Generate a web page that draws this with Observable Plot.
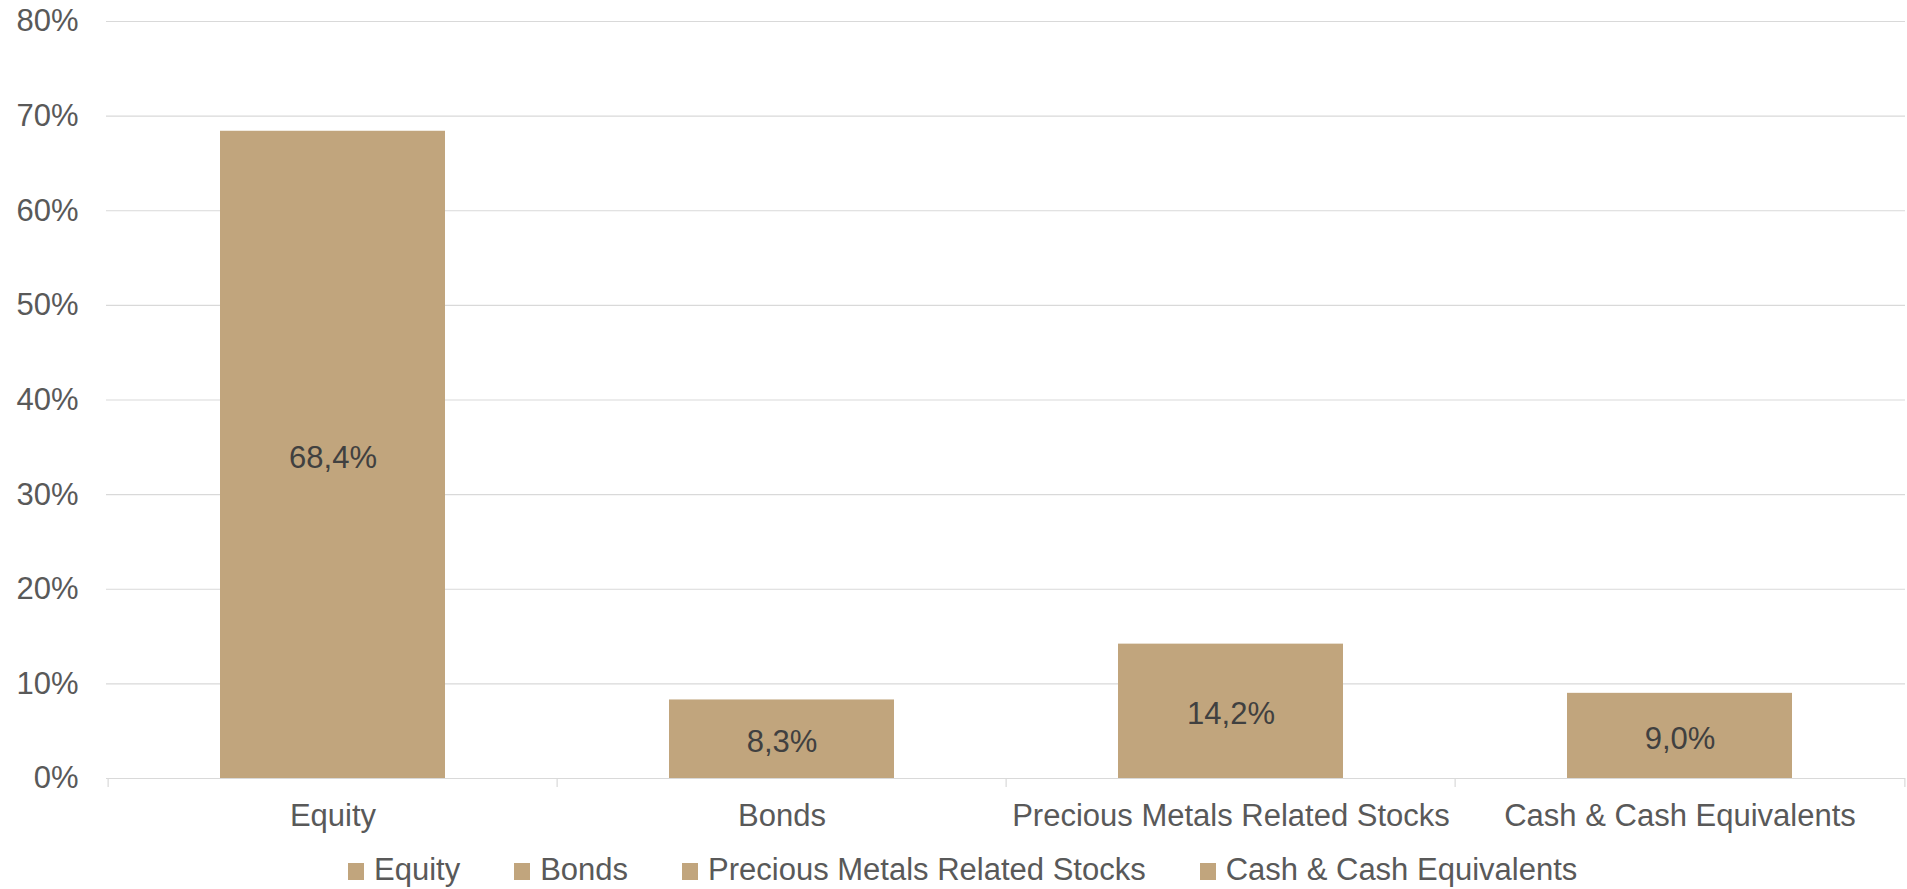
<!DOCTYPE html>
<html><head><meta charset="utf-8">
<script src="https://cdn.jsdelivr.net/npm/d3@7"></script>
<script src="https://cdn.jsdelivr.net/npm/@observablehq/plot@0.6"></script>
<style>
html,body{margin:0;padding:0;background:#fff;}
#wrap{position:relative;width:1907px;height:889px;font-family:"Liberation Sans",Arial,sans-serif;overflow:hidden;}
#wrap svg{position:absolute;left:0;top:0;}
#legend{position:absolute;left:348px;top:852px;font-size:31px;line-height:36px;color:#595959;white-space:nowrap;}
.item{display:inline-block;margin-right:54px;}
.sw{display:inline-block;width:16px;height:17px;margin-right:10px;vertical-align:baseline;}
</style></head><body><div id="wrap"><div id="legend"></div></div>
<script>
const categories = ["Equity", "Bonds", "Precious Metals Related Stocks", "Cash & Cash Equivalents"];
const values = [0.684, 0.083, 0.142, 0.090];
const valueLabels = ["68,4%", "8,3%", "14,2%", "9,0%"];
const yTicks = [0, 0.1, 0.2, 0.3, 0.4, 0.5, 0.6, 0.7, 0.8];
const yTickLabels = ["0%", "10%", "20%", "30%", "40%", "50%", "60%", "70%", "80%"];

const barColor = "#C1A57D";
const W = 1907, H = 845, mL = 106, mR = 2, mT = 21, mB = 67;
const step = (W - mL - mR) / categories.length;

const data = categories.map((c, i) => ({cat: c, value: values[i], label: valueLabels[i]}));

const chart = Plot.plot({
  width: W, height: H,
  marginLeft: mL, marginRight: mR, marginTop: mT, marginBottom: mB,
  style: {fontFamily: '"Liberation Sans", Arial, sans-serif', color: "#595959", background: "#fff"},
  x: {domain: categories, paddingInner: 0.5, paddingOuter: 0.25, label: null},
  y: {domain: [0, 0.8], label: null},
  marks: [
    Plot.gridY(yTicks, {stroke: "#d9d9d9", strokeOpacity: 1, strokeWidth: 1.2}),
    Plot.ruleX(categories, {x: d => d, y1: 0, y2: 0, insetBottom: -9, dx: -step / 2, stroke: "#d9d9d9", strokeWidth: 1.2}),
    Plot.ruleX([categories[categories.length - 1]], {x: d => d, y1: 0, y2: 0, insetBottom: -9, dx: step / 2, stroke: "#d9d9d9", strokeWidth: 1.2}),
    Plot.barY(data, {x: "cat", y: "value", fill: barColor}),
    Plot.text(data, {x: "cat", y: d => d.value / 2, text: "label", fontSize: 31, fill: "#404040", dy: 3}),
    Plot.axisY(yTicks, {tickFormat: d => yTickLabels[yTicks.indexOf(d)], tickSize: 0, tickPadding: 28, fontSize: 31, label: null}),
    Plot.axisX({tickSize: 0, tickPadding: 25, fontSize: 31, label: null})
  ]
});
document.getElementById("wrap").prepend(chart);

const legend = document.getElementById("legend");
categories.forEach((c, i) => {
  const item = document.createElement("span");
  item.className = "item";
  if (i === categories.length - 1) item.style.marginRight = "0";
  const sw = document.createElement("span");
  sw.className = "sw";
  sw.style.background = barColor;
  item.appendChild(sw);
  item.appendChild(document.createTextNode(c));
  legend.appendChild(item);
});
</script></body></html>
